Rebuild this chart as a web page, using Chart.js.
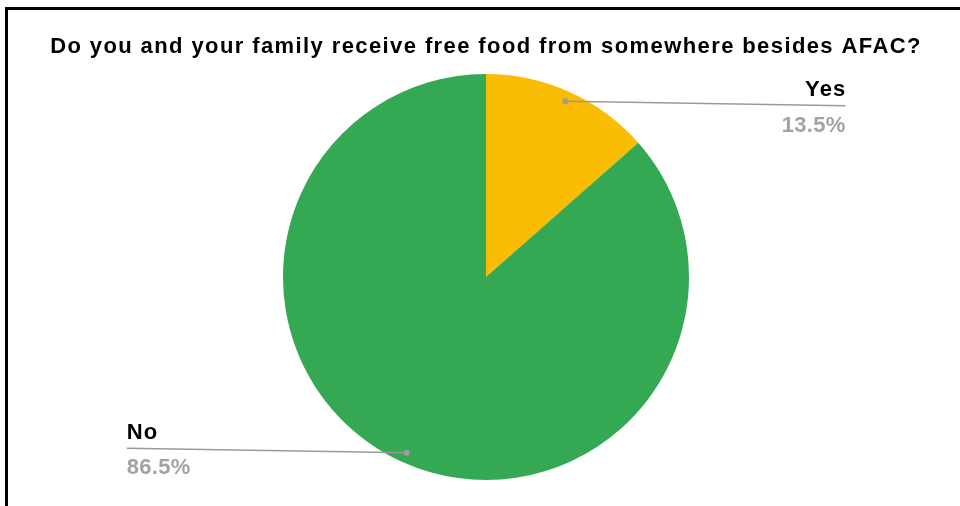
<!DOCTYPE html>
<html>
<head>
<meta charset="utf-8">
<script src="https://cdn.jsdelivr.net/npm/chart.js@4"></script>
<style>
  html, body { margin: 0; padding: 0; background: #fff; }
  #wrap { position: relative; width: 960px; height: 506px; overflow: hidden; }
  #chart { position: absolute; left: 0; top: 0; }
  #frame {
    position: absolute; left: 5px; top: 7px; width: 1000px; height: 600px;
    border-left: 3px solid #000; border-top: 3px solid #000; pointer-events: none;
  }
</style>
</head>
<body>
<div id="wrap">
  <canvas id="chart" width="960" height="506"></canvas>
  <div id="frame"></div>
</div>
<script>
const answers = ['Yes', 'No'];
const shares = [13.5, 86.5];
const sliceColors = ['#FBBC04', '#34A853'];

const chartTitle = 'Do you and your family receive free food from somewhere besides AFAC?';
const fontFamily = 'Arial, "Liberation Sans", sans-serif';

// wider tracking for the title text
const titleSpacing = {
    id: 'titleSpacing',
    beforeDraw(chart) {
        chart.ctx.letterSpacing = '1.4px';
    },
    afterDraw(chart) {
        chart.ctx.letterSpacing = '0px';
    }
};

// leader lines + two-line labels (name above the line, percent below)
const pieLabels = {
    id: 'pieLabels',
    afterDatasetsDraw(chart) {
        const ctx = chart.ctx;
        const meta = chart.getDatasetMeta(0);
        const data = chart.data.datasets[0].data;
        const total = data.reduce((a, b) => a + b, 0);
        meta.data.forEach((arc, i) => {
            const { x, y, startAngle, endAngle, outerRadius } = arc.getProps(['x', 'y', 'startAngle', 'endAngle', 'outerRadius'], true);
            const mid = (startAngle + endAngle) / 2;
            const cos = Math.cos(mid), sin = Math.sin(mid);
            const dotX = x + cos * outerRadius * 0.95;
            const dotY = y + sin * outerRadius * 0.95;
            const right = cos >= 0;
            const endX = x + (right ? 1 : -1) * outerRadius * 1.77;
            const endY = dotY - Math.sign(sin) * 4.5;

            ctx.save();
            ctx.strokeStyle = '#9a9a9a';
            ctx.lineWidth = 1.5;
            ctx.beginPath();
            ctx.moveTo(dotX, dotY);
            ctx.lineTo(endX, endY);
            ctx.stroke();
            ctx.fillStyle = '#9e9e9e';
            ctx.beginPath();
            ctx.arc(dotX, dotY, 3, 0, Math.PI * 2);
            ctx.fill();

            ctx.textAlign = right ? 'right' : 'left';
            ctx.textBaseline = 'alphabetic';
            ctx.fillStyle = '#000';
            ctx.font = 'bold 22px ' + fontFamily;
            ctx.letterSpacing = '1.2px';
            // trailing spacing would push right-aligned text left
            ctx.fillText(chart.data.labels[i], right ? endX + 1.2 : endX, endY - 9.5);
            ctx.letterSpacing = '0.3px';
            ctx.fillStyle = '#a3a3a3';
            ctx.font = 'bold 22px ' + fontFamily;
            ctx.fillText((data[i] / total * 100).toFixed(1) + '%', right ? endX + 0.3 : endX, endY + 26);
            ctx.restore();
        });
    }
};

new Chart(document.getElementById('chart'), {
    type: 'pie',
    data: {
        labels: answers,
        datasets: [{
            data: shares,
            backgroundColor: sliceColors,
            borderWidth: 0,
            hoverOffset: 0
        }]
    },
    options: {
        responsive: false,
        animation: false,
        radius: 203,
        layout: { padding: { left: 12, right: 0, top: 0, bottom: 26 } },
        plugins: {
            legend: { display: false },
            tooltip: { enabled: false },
            title: {
                display: true,
                text: chartTitle,
                color: '#000',
                font: { family: fontFamily, size: 22, weight: 'bold', lineHeight: 1.2 },
                padding: { top: 34, bottom: 13.6 }
            }
        }
    },
    plugins: [titleSpacing, pieLabels]
});
</script>
</body>
</html>
